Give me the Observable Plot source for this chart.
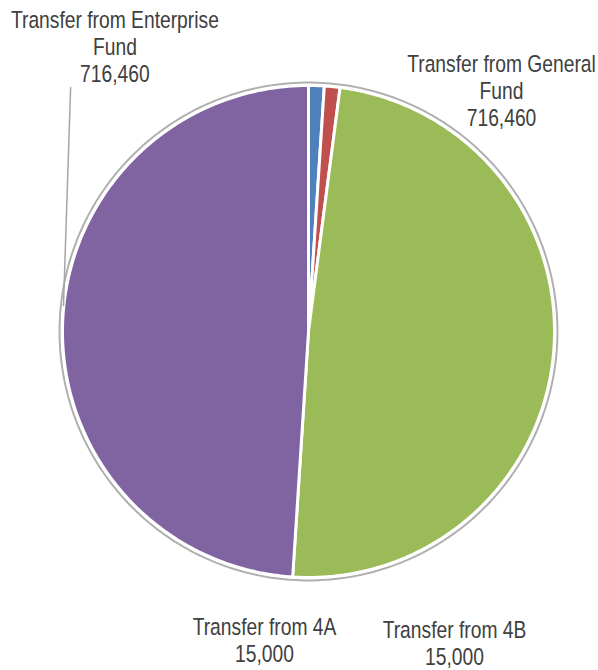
<!DOCTYPE html>
<html>
<head>
<meta charset="utf-8">
<script src="https://cdn.jsdelivr.net/npm/d3@7"></script>
<script src="https://cdn.jsdelivr.net/npm/@observablehq/plot@0.6"></script>
<style>
  html, body { margin: 0; padding: 0; background: #fff; }
</style>
</head>
<body>
<div id="chart"></div>
<script>
// ---- data ----
const sliceNames = ["Transfer from 4A", "Transfer from 4B", "Transfer from General Fund", "Transfer from Enterprise Fund"];
const sliceValues = [15000, 15000, 716460, 716460];
const sliceColors = ["#4f81bd", "#c0504d", "#9bbb59", "#8064a2"];
const labelTexts = [
  "Transfer from 4A\n15,000",
  "Transfer from 4B\n15,000",
  "Transfer from General\nFund\n716,460",
  "Transfer from Enterprise\nFund\n716,460"
];
// label anchor positions in pie units (radius = 1)
const labelU = [-0.179, 0.5935, 0.7846, -0.787];
const labelV = [-1.255, -1.2663, 0.9817, 1.1606];
// leader line for the Enterprise Fund label (pie units)
const leaderU = [-0.967, -0.996];
const leaderV = [0.992, 0.106];

// ---- layout ----
const W = 598, H = 670;
const cx = 308, cy = 331, R = 246;

const pie = d3.pie().sort(null).value(d => d)(sliceValues);
const slicePts = [];
pie.forEach((p, i) => {
  slicePts.push({k: i, u: 0, v: 0, c: sliceColors[i]});
  const n = Math.max(2, Math.ceil((p.endAngle - p.startAngle) / 0.01));
  for (let j = 0; j <= n; j++) {
    const a = p.startAngle + (p.endAngle - p.startAngle) * j / n;
    slicePts.push({k: i, u: Math.sin(a), v: Math.cos(a), c: sliceColors[i]});
  }
  slicePts.push({k: i, u: 0, v: 0, c: sliceColors[i]});
});
const ring = d3.range(0, 361).map(d => ({u: 1.012 * Math.sin(d * Math.PI / 180), v: 1.012 * Math.cos(d * Math.PI / 180)}));

const labels = labelTexts.map((t, i) => ({t, u: labelU[i], v: labelV[i]}));
const leader = leaderU.map((u, i) => ({u, v: leaderV[i]}));

const chart = Plot.plot({
  width: W,
  height: H,
  margin: 0,
  x: {domain: [-cx / R, (W - cx) / R], axis: null},
  y: {domain: [(cy - H) / R, cy / R], axis: null},
  color: {type: "identity"},
  marks: [
    Plot.line(ring, {x: "u", y: "v", stroke: "#b0b0b0", strokeWidth: 2}),
    Plot.line(slicePts, {x: "u", y: "v", z: "k", fill: "c", stroke: "#ffffff", strokeWidth: 3, strokeLinejoin: "round"}),
    Plot.line(leader, {x: "u", y: "v", stroke: "#a6a6a6", strokeWidth: 1.5}),
    Plot.text(labels, {x: "u", y: "v", text: "t", fill: "#404040", fontSize: 23.5, lineHeight: 1.15,
      fontFamily: "'Liberation Sans Narrow', 'Arial Narrow', 'Liberation Sans', Arial, sans-serif"})
  ]
});
document.getElementById("chart").appendChild(chart);

// condense label text horizontally (narrow font look)
d3.select(chart).selectAll("text").each(function() {
  const b = this.getBBox();
  const bx = b.x + b.width / 2;
  const old = this.getAttribute("transform") || "";
  this.setAttribute("transform", `${old} translate(${bx},0) scale(0.82,1) translate(${-bx},0)`);
});
</script>
</body>
</html>
